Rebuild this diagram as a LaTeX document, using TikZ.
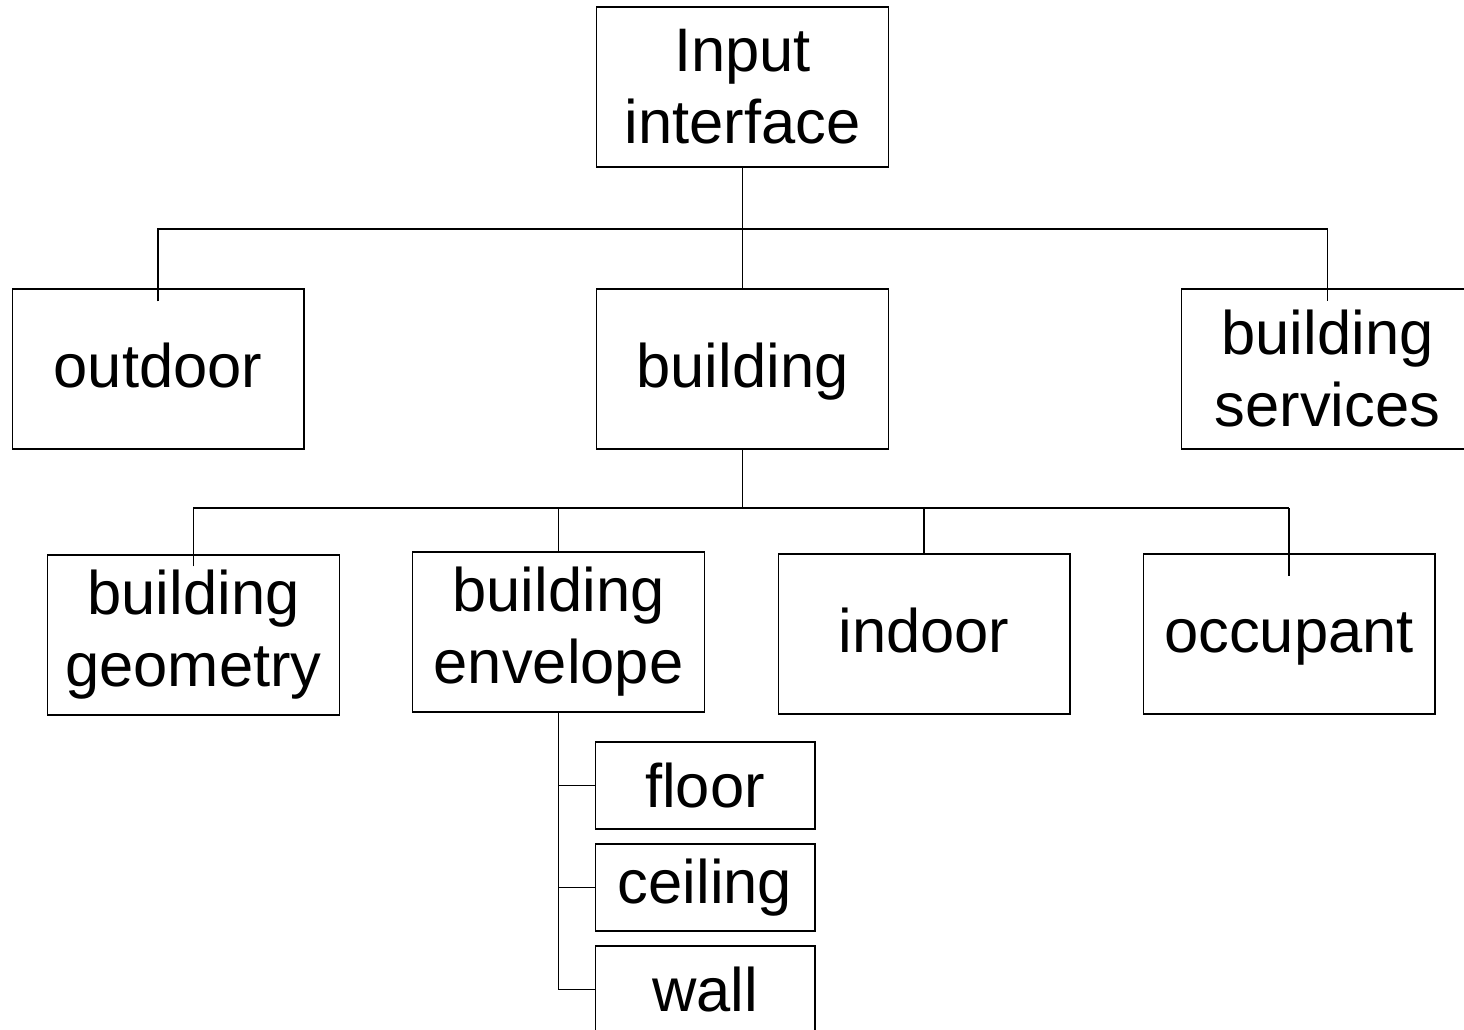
\documentclass[tikz,border=0pt]{standalone}
\usepackage{fontspec}
\setmainfont{Liberation Sans}
\begin{document}
\begin{tikzpicture}[x=0.02cm,y=-0.02cm,
  bigbox/.style={draw=black,line width=0.6pt,minimum width=5.84cm,minimum height=3.2cm,inner sep=0pt,align=center,
    font=\fontsize{35pt}{41pt}\selectfont},
  oneline/.style={text height=1.04cm,text depth=0.3cm},
  smallbox/.style={draw=black,line width=0.6pt,minimum width=4.4cm,minimum height=1.74cm,inner sep=0pt,align=center,
    font=\fontsize{35pt}{41pt}\selectfont},
  conn/.style={line width=0.6pt},
  thickconn/.style={line width=1.1pt}]
\useasboundingbox (0,0) rectangle (1464,1030);
\fill[white] (0,0) rectangle (1464,1030);
% nodes
\node[bigbox] (in)  at (742.5,87)  {Input\\interface};
\node[bigbox,oneline] (out) at (158,369)   {outdoor};
\node[bigbox,oneline] (bld) at (742.5,369) {building};
\node[bigbox] (bs)  at (1327.5,369) {building\\services};
\node[bigbox] (geo) at (193.5,635) {building\\geometry};
\node[bigbox] (env) at (558.5,632) {building\\envelope};
\node[bigbox,oneline] (ind) at (924,634)   {indoor};
\node[bigbox,oneline] (occ) at (1289,634)  {occupant};
\node[smallbox] (flo) at (705,785.5) {floor};
\node[smallbox] (cei) at (705,887.5) {ceiling};
\node[smallbox] (wal) at (705,989.5) {wall};
% junctions
\coordinate (j1) at (742.5,229);
\coordinate (j2) at (742.5,508);
% top level
\draw[conn] (in.south) -- (bld.north);
\draw[conn] ([yshift=-0.26cm]out.north) -- (out.north |- j1) -- (bs.north |- j1) -- ([yshift=-0.26cm]bs.north);
% building level
\draw[thickconn] (bld.south) -- (j2);
\draw[thickconn] (env.north |- j2) -- (occ.north |- j2);
\draw[conn] ([yshift=-0.24cm]geo.north) -- (geo.north |- j2) -- (env.north |- j2) -- (env.north);
\draw[conn] (ind.north |- j2) -- (ind.north);
\draw[conn] (occ.north |- j2) -- ([yshift=-0.46cm]occ.north);
% envelope subtree
\draw[thickconn] (env.south) -- (env.south |- wal.west) -- (wal.west);
\draw[conn] (env.south |- flo.west) -- (flo.west);
\draw[conn] (env.south |- cei.west) -- (cei.west);
\end{tikzpicture}
\end{document}
